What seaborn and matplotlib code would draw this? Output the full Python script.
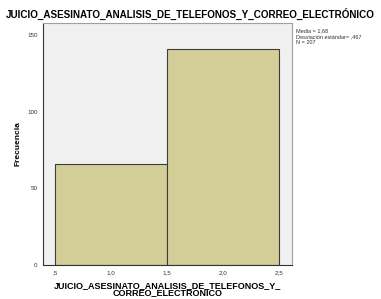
import seaborn as sns
import matplotlib.pyplot as plt

# datos
valores = [1, 2]
frecuencias = [66, 141]
bordes = [0.5, 1.5, 2.5]
xticks = [0.5, 1.0, 1.5, 2.0, 2.5]
xtick_labels = [",5", "1,0", "1,5", "2,0", "2,5"]
yticks = [0, 50, 100, 150]
titulo = "JUICIO_ASESINATO_ANALISIS_DE_TELEFONOS_Y_CORREO_ELECTRÓNICO"
xlabel = "JUICIO_ASESINATO_ANALISIS_DE_TELEFONOS_Y_\nCORREO_ELECTRÓNICO"
stats = "Media = 1,68\nDesviación estándar= ,467\nN = 207"

sns.set_style("white")
plt.rcParams['font.family'] = ['Liberation Sans', 'DejaVu Sans']

fig = plt.figure(figsize=(3.81, 2.99), dpi=100)
ax = fig.add_axes([0.113, 0.114, 0.653, 0.809])
ax.set_facecolor('#f0f0f0')

sns.histplot(x=valores, weights=frecuencias, bins=bordes, ax=ax,
             color='#d3ce97', alpha=1, edgecolor='#3c3c3c', linewidth=0.8)

ax.set_xlim(0.393, 2.616)
ax.set_ylim(0, 157.8)
ax.set_xticks(xticks)
ax.set_xticklabels(xtick_labels)
ax.set_yticks(yticks)
ax.tick_params(axis='both', labelsize=4.5, labelcolor='#333333', length=3,
               width=0.6, color='#333333', direction='out', pad=1)
for s in ax.spines.values():
    s.set_color('#a0a0a0')
    s.set_linewidth(0.8)
ax.spines['left'].set_color('#333333')
ax.spines['bottom'].set_color('#333333')

ax.set_ylabel("Frecuencia", fontsize=6, fontweight='bold', labelpad=4, color='black')
ax.set_xlabel(xlabel, fontsize=6.5, fontweight='bold', labelpad=4, linespacing=0.85,
              color='black')
fig.text(0.5, 0.933, titulo, ha='center', va='bottom', fontsize=7.1,
         fontweight='bold', color='black')
fig.text(0.778, 0.905, stats, ha='left', va='top', fontsize=4, color='#333333',
         linespacing=1.15)

fig.savefig("out.png", dpi=100)
